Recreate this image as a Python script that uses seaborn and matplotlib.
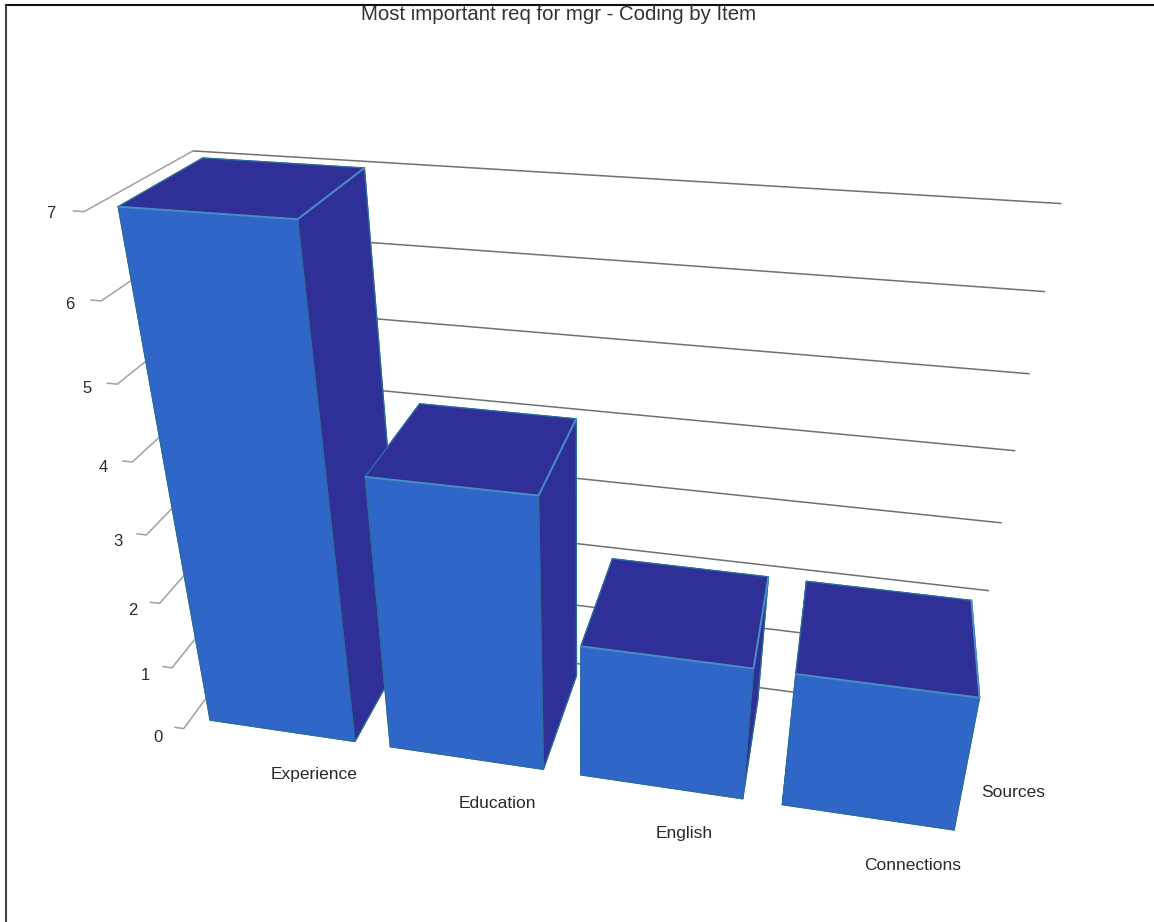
import numpy as np
import matplotlib
matplotlib.use("Agg")
import matplotlib.pyplot as plt
from matplotlib.lines import Line2D
from mpl_toolkits.mplot3d import proj3d
import seaborn as sns

# --- data -----------------------------------------------------------------
categories = ["Experience", "Education", "English", "Connections", "Sources"]
values = [7, 4, 2, 2, 0]
value_ticks = [0, 1, 2, 3, 4, 5, 6, 7]
title = "Most important req for mgr - Coding by Item"

# --- label anchors on the floor plane (category units, depth units) ---------
label_x = [0.797, 1.748, 2.665, 3.72, 4.205]
label_y = [-0.173, -0.18, -0.188, -0.167, 0.432]

# --- style ------------------------------------------------------------------
sns.set_theme(style="white")
plt.rcParams["font.family"] = ["Liberation Sans", "DejaVu Sans"]
front_col, dark_col = sns.color_palette(["#3066C8", "#2E3098"])
edge_col = "#2C6C9C"
light_edge = "#4A8CC4"
text_col = "#2a2a2a"

# --- camera: world scale (image units per category / depth / value) ---------
unit_x, unit_y, unit_z = 226.0, 226.0, 89.4
elev, azim = 29.54, -77.8
cam_height = 1000.0
image_focal = 1297.0           # px
principal = (579.0, 491.0)     # px, from top-left
W_px, H_px = 1154, 922
W = 2400.0                     # axes side, px

centre = (1.488, 2.90, 0.0)
half = (3.0, 3.5, 8.0)

fig = plt.figure(figsize=(W_px / 100, H_px / 100), dpi=100, facecolor="white")
frac = 0.95 / 1.85
rect = [(principal[0] - frac * W) / W_px,
        (H_px - principal[1] - frac * W) / H_px,
        W / W_px, W / H_px]
ax = fig.add_axes(rect, projection="3d", computed_zorder=False)
ax.set_axis_off()
ax.patch.set_alpha(0)
ax.view_init(elev=elev, azim=azim, roll=0)

focal = image_focal * 0.185 / W
ax.set_proj_type("persp", focal_length=focal)
ax.set_xlim(centre[0] - half[0], centre[0] + half[0])
ax.set_ylim(centre[1] - half[1], centre[1] + half[1])
ax.set_zlim(centre[2] - half[2], centre[2] + half[2])

box = np.array([2 * half[0] * unit_x, 2 * half[1] * unit_y, 2 * half[2] * unit_z])
cam_dist = cam_height / np.sin(np.radians(elev))
scale = 10 * focal / cam_dist
zoom = scale * np.linalg.norm(box) / (1.8294640721620434 * 25 / 24)
ax.set_box_aspect(box, zoom=zoom)


def label(x, y, z, s, size):
    """Place a 2D text at the projected position of a 3D point."""
    px, py, _ = proj3d.proj_transform(x, y, z, ax.get_proj())
    ax.text2D(px, py, s, transform=ax.transData, ha="center", va="center",
              fontsize=size, color=text_col, zorder=10)


# --- walls: value grid lines --------------------------------------------------
wall_end = 4.0
wall_back = 0.98
bar_width = 0.808
bar_depth = 0.78
bar_start = 0.104
bar_y0 = 0.093
for v in value_ticks:
    ax.plot([0, wall_end], [wall_back, wall_back], [v, v], color="#707070", lw=1.1, zorder=1)
    ax.plot([0, 0, -0.05], [wall_back, 0, 0], [v, v, v], color="#a0a0a0", lw=1.1, zorder=1)
    label(-0.145, -0.02, 1.02 * v - 0.17, str(v), 12)

# --- bars ---------------------------------------------------------------------
for i, val in enumerate(values):
    if val <= 0:
        continue
    x0 = bar_start + i
    face_cols = [dark_col, dark_col, front_col, dark_col, dark_col, dark_col]
    ax.bar3d(x0, bar_y0, 0, bar_width, bar_depth, val, color=face_cols, shade=False,
             edgecolor=edge_col, linewidth=0.9, zorder=3 + i)
    ax.plot([x0, x0 + bar_width, x0 + bar_width],
            [bar_y0, bar_y0, bar_y0 + bar_depth], [val, val, val],
            color=light_edge, lw=1.4, zorder=3.5 + i)

# --- category labels -----------------------------------------------------------
for name, lx, ly in zip(categories, label_x, label_y):
    label(lx, ly, -0.03, name, 12.5)

# --- title and frame -----------------------------------------------------------
fig.text(559 / W_px, 1 - 15 / H_px, title, ha="center", va="center",
         fontsize=14.7, color="#333333")
fig.add_artist(Line2D([5.5 / W_px, 5.5 / W_px], [0, 1 - 5.5 / H_px],
                      transform=fig.transFigure, color="#444444", lw=1.5))
fig.add_artist(Line2D([5.5 / W_px, 1], [1 - 5.5 / H_px, 1 - 5.5 / H_px],
                      transform=fig.transFigure, color="#111111", lw=1.5))

fig.savefig("out.png", dpi=100, facecolor="white")
